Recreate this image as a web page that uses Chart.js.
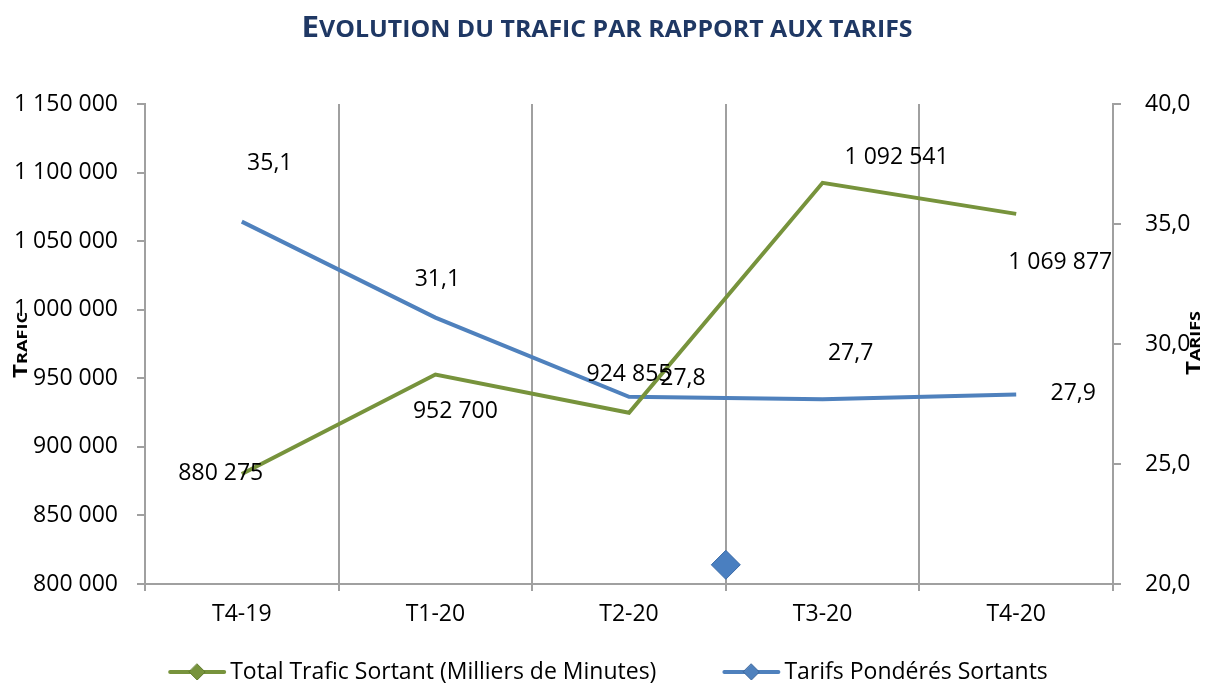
<!DOCTYPE html>
<html>
<head>
<meta charset="utf-8">
<script src="https://cdn.jsdelivr.net/npm/chart.js@4.4.1/dist/chart.umd.min.js"></script>
<style>
html,body{margin:0;padding:0;background:#fff}
#wrap{width:1207px;height:687px}
</style>
</head>
<body>
<div id="wrap"><canvas id="chart"></canvas></div>
<script>
// data
const labels = ['T4-19', 'T1-20', 'T2-20', 'T3-20', 'T4-20'];
const trafic = [880275, 952700, 924855, 1092541, 1069877];
const tarifs = [35.1, 31.1, 27.8, 27.7, 27.9];
// lone diamond sitting near the bottom between T2-20 and T3-20
const strayX = [2.5];
const strayY = [20.8];

const traficMin = 800000, traficMax = 1150000, traficStep = 50000;
const tarifMin = 20, tarifMax = 40, tarifStep = 5;

// label offsets (dx, dy) from each point, as placed in the picture
const traficOff = [[-21, 0], [20, 37], [0, -38], [74, -25], [44, 49]];
const tarifOff = [[28, -58], [2, -38], [54, -18], [28, -46], [57, -1]];

const green = '#77933C';
const blue = '#4F81BD';
const axisGray = '#a0a0a0';
const FONT = "'Open Sans', sans-serif";
const FS = 23;

const fmtInt = v => String(Math.round(v)).replace(/\B(?=(\d{3})+(?!\d))/g, ' ');
const fmtDec = v => v.toFixed(1).replace('.', ',');

function drawIcon(ctx, x, y, color, dark) {
  ctx.save();
  ctx.strokeStyle = color; ctx.lineWidth = 4; ctx.lineCap = 'round';
  ctx.beginPath(); ctx.moveTo(x + 2, y); ctx.lineTo(x + 56, y); ctx.stroke();
  ctx.fillStyle = color; ctx.strokeStyle = dark; ctx.lineWidth = 1;
  ctx.beginPath();
  ctx.moveTo(x + 29, y - 8); ctx.lineTo(x + 37, y); ctx.lineTo(x + 29, y + 8); ctx.lineTo(x + 21, y);
  ctx.closePath(); ctx.fill(); ctx.stroke();
  ctx.restore();
}

function smallCaps(ctx, parts, cx, cy, width, angle, color) {
  ctx.save();
  ctx.fillStyle = color;
  ctx.textBaseline = 'alphabetic';
  let total = 0;
  parts.forEach(p => { ctx.font = 'bold ' + p.size + 'px ' + FONT; p.w = ctx.measureText(p.t).width; total += p.w; });
  ctx.translate(cx, cy);
  ctx.rotate(angle);
  ctx.scale(width / total, 1);
  let x = -total / 2;
  parts.forEach(p => { ctx.font = 'bold ' + p.size + 'px ' + FONT; ctx.fillText(p.t, x, 0); x += p.w; });
  ctx.restore();
}

const extras = {
  id: 'extras',
  afterDatasetsDraw(chart) {
    const ctx = chart.ctx;
    ctx.save();
    ctx.font = FS + 'px ' + FONT;
    ctx.fillStyle = '#000';
    ctx.textAlign = 'center';
    ctx.textBaseline = 'middle';
    chart.getDatasetMeta(0).data.forEach((pt, i) => {
      ctx.fillText(fmtInt(trafic[i]), pt.x + traficOff[i][0], pt.y + traficOff[i][1]);
    });
    chart.getDatasetMeta(1).data.forEach((pt, i) => {
      ctx.fillText(fmtDec(tarifs[i]), pt.x + tarifOff[i][0], pt.y + tarifOff[i][1]);
    });
    ctx.restore();
  },
  afterDraw(chart) {
    const ctx = chart.ctx;
    smallCaps(ctx, [{t: 'E', size: 29}, {t: 'VOLUTION DU TRAFIC PAR RAPPORT AUX TARIFS', size: 23}],
      607, 37, 611, 0, '#1F3864');
    smallCaps(ctx, [{t: 'T', size: 20}, {t: 'RAFIC', size: 15}], 27, 345, 66, -Math.PI / 2, '#000');
    smallCaps(ctx, [{t: 'T', size: 20}, {t: 'ARIFS', size: 15}], 1200, 343, 64, -Math.PI / 2, '#000');

    // legend: line + diamond, then the series name
    const ds = chart.data.datasets;
    const items = [[ds[0], '#5e7a2a'], [ds[1], '#3a659a']];
    ctx.save();
    ctx.font = FS + 'px ' + FONT;
    ctx.fillStyle = '#000';
    ctx.textBaseline = 'middle';
    const gap = 68, iconW = 60;
    const widths = items.map(it => iconW + ctx.measureText(it[0].label).width);
    const total = widths[0] + gap + widths[1];
    let x = 609 - total / 2;
    const y = 672;
    items.forEach((it, i) => {
      drawIcon(ctx, x - 2, y, it[0].borderColor, it[1]);
      ctx.fillText(it[0].label, x + iconW, y);
      x += widths[i] + gap;
    });
    ctx.restore();
  }
};

new Chart(document.getElementById('chart'), {
  type: 'line',
  data: {
    labels: labels,
    datasets: [{
      label: 'Total Trafic Sortant (Milliers de Minutes)',
      data: trafic,
      yAxisID: 'y',
      borderColor: green,
      backgroundColor: green,
      borderWidth: 4,
      tension: 0,
      pointRadius: 0,
      pointHoverRadius: 0
    }, {
      label: 'Tarifs Pondérés Sortants',
      data: tarifs,
      yAxisID: 'y1',
      borderColor: blue,
      backgroundColor: blue,
      borderWidth: 4,
      tension: 0,
      pointRadius: 0,
      pointHoverRadius: 0
    }, {
      type: 'scatter',
      label: 'stray',
      data: strayX.map((x, i) => ({x: x, y: strayY[i]})),
      xAxisID: 'x2',
      yAxisID: 'y1',
      pointStyle: 'rectRot',
      pointRadius: 14.5,
      backgroundColor: '#4a7fc0',
      borderColor: '#3a6aa6',
      borderWidth: 1
    }]
  },
  options: {
    responsive: true,
    maintainAspectRatio: false,
    animation: false,
    layout: {padding: {top: 104, left: 0, right: 0, bottom: 51}},
    plugins: {
      title: {display: false},
      tooltip: {enabled: false},
      legend: {display: false}
    },
    scales: {
      x: {
        type: 'category',
        offset: true,
        afterFit: s => { s.height = 52; },
        grid: {offset: true, color: axisGray, lineWidth: 2, tickLength: 7, drawOnChartArea: true},
        border: {color: axisGray, width: 2},
        ticks: {color: '#000', font: {family: FONT, size: FS}, padding: 10}
      },
      x2: {
        type: 'linear',
        display: false,
        min: -0.5,
        max: 4.5
      },
      y: {
        position: 'left',
        min: traficMin,
        max: traficMax,
        afterFit: s => { s.width = 145; },
        grid: {drawOnChartArea: false, color: axisGray, lineWidth: 2, tickLength: 8},
        border: {color: axisGray, width: 2},
        ticks: {stepSize: traficStep, color: '#000', font: {family: FONT, size: FS}, padding: 19,
          callback: v => fmtInt(v)}
      },
      y1: {
        position: 'right',
        min: tarifMin,
        max: tarifMax,
        afterFit: s => { s.width = 94; },
        grid: {drawOnChartArea: false, color: axisGray, lineWidth: 2, tickLength: 8},
        border: {color: axisGray, width: 2},
        ticks: {stepSize: tarifStep, color: '#000', font: {family: FONT, size: FS}, padding: 24,
          callback: v => fmtDec(v)}
      }
    }
  },
  plugins: [extras]
});
</script>
</body>
</html>
